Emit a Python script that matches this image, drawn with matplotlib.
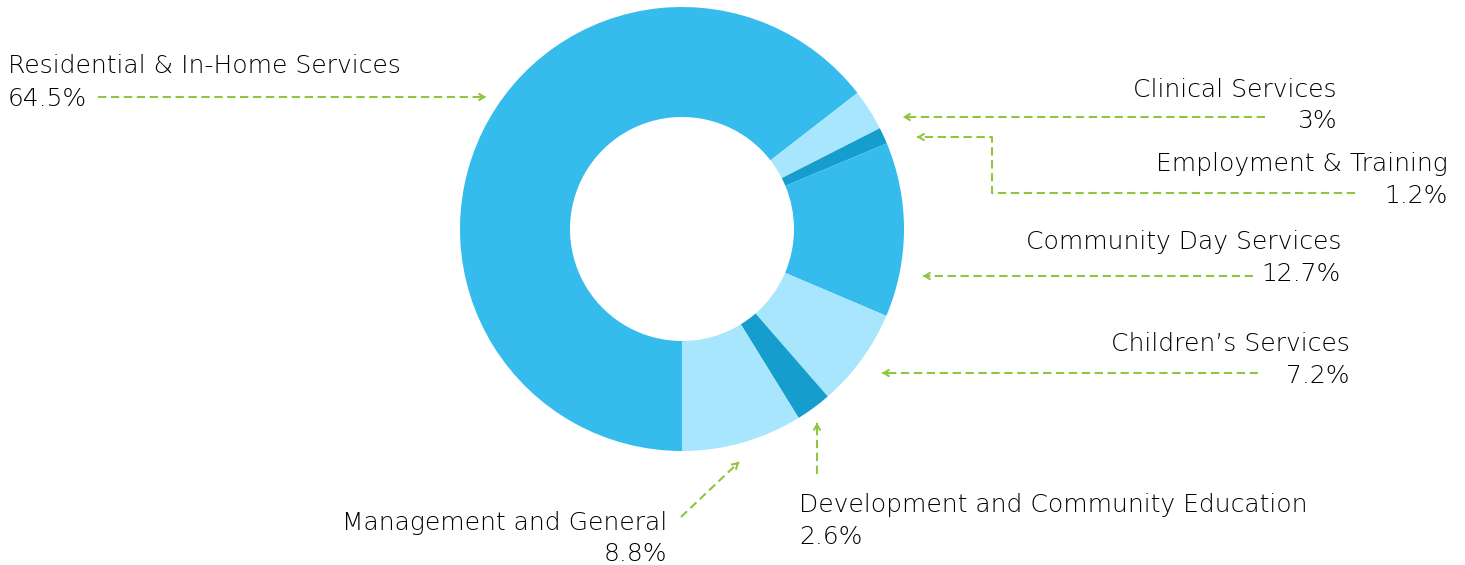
import matplotlib
matplotlib.use('Agg')
import matplotlib.pyplot as plt

# data
labels = ['Residential & In-Home Services', 'Clinical Services', 'Employment & Training',
          'Community Day Services', "Children\u2019s Services",
          'Development and Community Education', 'Management and General']
values = [64.5, 3, 1.2, 12.7, 7.2, 2.6, 8.8]
pct_text = ['64.5%', '3%', '1.2%', '12.7%', '7.2%', '2.6%', '8.8%']

MAIN = '#36BBED'
LIGHT = '#A8E6FD'
DARK = '#149DCD'
GREEN = '#8DC63F'
TXT = '#000000'
slice_colors = [MAIN, LIGHT, DARK, MAIN, LIGHT, DARK, LIGHT]

W, H = 1465, 565
plt.rcParams['font.family'] = ['DejaVu Sans']

fig = plt.figure(figsize=(W / 100, H / 100), dpi=100)
ax = fig.add_axes([0, 0, 1, 1])

def Y(y):
    # pixel row (from top) -> data y
    return H - y

ax.pie(values, colors=slice_colors, startangle=-90, counterclock=False,
       radius=222, center=(682, Y(229)),
       wedgeprops=dict(width=110, linewidth=0))

def dashed(points):
    xs = [p[0] for p in points]
    ys = [Y(p[1]) for p in points]
    ax.plot(xs, ys, color=GREEN, lw=1.5, linestyle=(0, (4, 2.2)), solid_capstyle='butt')
    # arrow head at the last point
    (x0, y0), (x1, y1) = points[-2], points[-1]
    ax.annotate('', xy=(x1, Y(y1)), xytext=(x1 - (x1 - x0) * 0.02, Y(y1 - (y1 - y0) * 0.02)),
                arrowprops=dict(arrowstyle='->,head_length=0.35,head_width=0.22',
                                color=GREEN, lw=1.5, shrinkA=0, shrinkB=0))

def label(x, y1, y2, i, ha):
    kw = dict(fontsize=18, color=TXT, ha=ha, va='baseline', fontweight='light')
    ax.text(x, Y(y1 + 8), labels[i], **kw)
    ax.text(x, Y(y2 + 8), pct_text[i], **kw)

# Residential
label(8, 65, 98, 0, 'left')
dashed([(98, 97), (486, 97)])
# Clinical
label(1337, 89, 120, 1, 'right')
dashed([(1265, 117), (903, 117)])
# Employment
label(1448, 163, 195, 2, 'right')
dashed([(1355, 193), (992, 193), (992, 137), (917, 137)])
# Community Day
label(1341, 241, 273, 3, 'right')
dashed([(1253, 276), (923, 276)])
# Children's
label(1350, 343, 375, 4, 'right')
dashed([(1258, 373), (882, 373)])
# Development
label(799, 504, 536, 5, 'left')
dashed([(817, 474), (817, 423)])
# Management
label(667, 522, 553, 6, 'right')
dashed([(681, 517), (739, 462)])

ax.set_xlim(0, W)
ax.set_ylim(0, H)
ax.set_aspect('equal')
ax.axis('off')

fig.savefig('out.png', dpi=100, facecolor='white')
